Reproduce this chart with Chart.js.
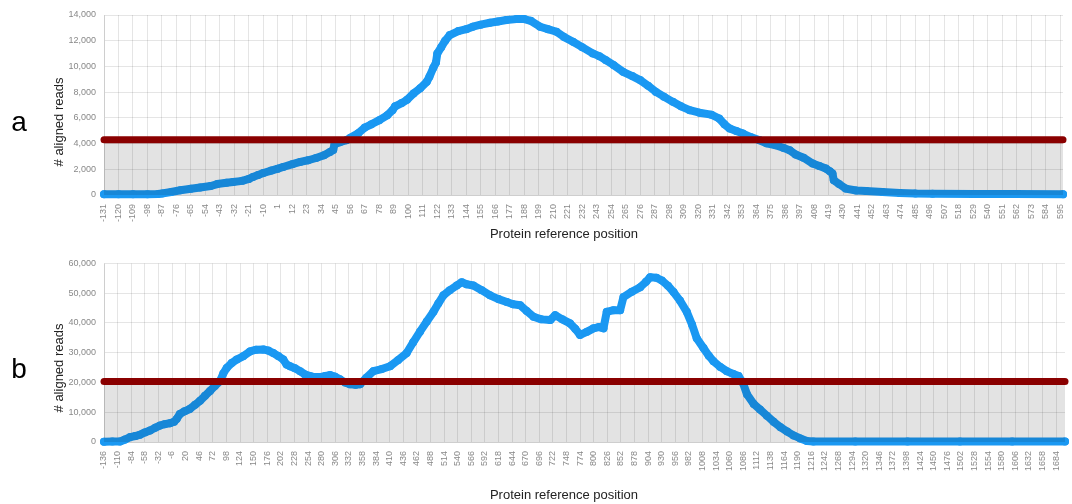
<!DOCTYPE html>
<html>
<head>
<meta charset="utf-8">
<script src="https://cdn.jsdelivr.net/npm/chart.js@4"></script>
<style>
  html, body { margin: 0; padding: 0; background: #fff; }
  canvas { display: block; }
</style>
</head>
<body>
<canvas id="chartA" width="1072" height="250"></canvas>
<canvas id="chartB" width="1072" height="254"></canvas>
<script>
// panel a: protein reference position vs aligned reads
const posA = [-131, -120, -109, -98, -90, -87, -80, -73, -65, -58, -50, -45, -38, -33, -26, -21, -18, -14, -10, -4,
  1, 5, 12, 18, 24, 30, 36, 40.5, 43, 44, 48, 53, 56, 62, 67, 72, 78, 84, 88, 90, 95, 99, 104, 109, 114, 116, 119,
  121, 122, 125, 128, 131.5, 138, 144, 149, 155, 162, 168, 174.5, 182, 188, 193, 200, 206, 212.5, 218, 225, 232,
  240, 245, 250, 256, 263, 270, 276, 282, 288, 294, 300.8, 307, 313.6, 321, 330, 336, 340, 344, 349, 354, 360,
  366.7, 372, 379, 385, 389.5, 394, 400, 407, 412, 417, 420, 422, 423, 427, 432, 440, 447.6, 460, 473, 485, 498,
  530, 560, 597];
const readsA = [50, 50, 50, 60, 80, 120, 230, 370, 480, 580, 700, 850, 950, 1010, 1100, 1250, 1400, 1550, 1710, 1900,
  2050, 2180, 2400, 2570, 2700, 2880, 3100, 3350, 3500, 3950, 4100, 4260, 4450, 4800, 5250, 5500, 5820, 6200, 6600,
  6900, 7150, 7400, 7900, 8300, 8800, 9190, 9900, 10300, 11000, 11500, 12000, 12440, 12750, 12900, 13090, 13250,
  13400, 13500, 13610, 13680, 13680, 13550, 13090, 12900, 12700, 12300, 11920, 11500, 11015, 10800, 10490, 10100,
  9580, 9250, 8935, 8500, 8020, 7650, 7245, 6900, 6600, 6400, 6250, 5950, 5500, 5170, 4980, 4780, 4500, 4260, 4020,
  3870, 3650, 3480, 3150, 2900, 2445, 2250, 2055, 1850, 1665, 1150, 850, 500, 350, 310, 230, 155, 110, 100, 80, 70, 50];
const cutA = 4300;
const ticksA = [-131, -120, -109, -98, -87, -76, -65, -54, -43, -32, -21, -10, 1, 12, 23, 34, 45, 56, 67, 78, 89,
  100, 111, 122, 133, 144, 155, 166, 177, 188, 199, 210, 221, 232, 243, 254, 265, 276, 287, 298, 309, 320, 331, 342,
  353, 364, 375, 386, 397, 408, 419, 430, 441, 452, 463, 474, 485, 496, 507, 518, 529, 540, 551, 562, 573, 584, 595];

// panel b
const posB = [-136, -120, -105.4, -96, -86, -76, -67, -58, -48, -38, -29, -20, -10, -2, 3, 9, 18, 28, 38, 47.5, 57,
  66.7, 76, 85.8, 92, 98.6, 108, 117.7, 130, 143, 155, 168.6, 178, 187.7, 197, 206.8, 213, 219.6, 229, 238.8, 248,
  258, 267, 277, 287, 296, 305, 315, 325, 334, 345, 353.5, 365, 378.8, 395, 410.8, 426, 442.6, 455, 468, 481, 493.7,
  503, 512.8, 525, 538.3, 547.9, 557, 570, 586, 602, 618, 634, 646, 659.5, 672, 685, 700, 717, 726.5, 740, 755, 765,
  774, 787, 799.7, 810, 818.8, 825, 838, 850.6, 857, 873, 889, 900, 908, 920, 930.4, 942, 952.7, 965, 978, 988, 997,
  1010, 1020, 1029, 1042, 1054.5, 1066, 1077, 1085, 1093, 1106, 1118, 1131, 1144, 1157, 1170, 1182, 1195, 1207.7,
  1220, 1300, 1400, 1500, 1600, 1701];
const readsB = [100, 150, 200, 800, 1650, 2000, 2450, 3200, 3880, 4800, 5540, 6000, 6300, 6800, 7760, 9400, 10300,
  11090, 12500, 13840, 15500, 17160, 18800, 20480, 23000, 24900, 26500, 27690, 28800, 30440, 31000, 31100, 30700,
  29880, 28900, 27690, 26000, 25460, 24800, 23800, 22700, 22140, 21800, 21800, 22200, 22470, 22000, 21050, 20000,
  19390, 19200, 19390, 21500, 23800, 24500, 25460, 27500, 29880, 33500, 37080, 40500, 43720, 46500, 49260, 51000,
  52580, 53690, 53000, 52580, 51000, 49260, 48000, 47040, 46300, 45930, 44000, 42060, 41200, 40950, 42610, 41200,
  39840, 38000, 35970, 37000, 38180, 38600, 38180, 43720, 44300, 44270, 48700, 50500, 52020, 53800, 55340, 55200,
  54250, 52500, 50370, 47500, 43720, 39500, 34860, 31540, 29000, 27120, 25200, 23800, 22900, 22140, 20000, 16070,
  12750, 10900, 8860, 6800, 4980, 3500, 2220, 1200, 330, 200, 150, 150, 150, 150, 150];
const cutB = 20300;
const ticksB = [-136, -110, -84, -58, -32, -6, 20, 46, 72, 98, 124, 150, 176, 202, 228, 254, 280, 306, 332, 358, 384,
  410, 436, 462, 488, 514, 540, 566, 592, 618, 644, 670, 696, 722, 748, 774, 800, 826, 852, 878, 904, 930, 956, 982,
  1008, 1034, 1060, 1086, 1112, 1138, 1164, 1190, 1216, 1242, 1268, 1294, 1320, 1346, 1372, 1398, 1424, 1450, 1476,
  1502, 1528, 1554, 1580, 1606, 1632, 1658, 1684];

const FONT = '"Liberation Sans", Arial, sans-serif';
Chart.defaults.font.family = FONT;
const gridColor = 'rgba(0,0,0,0.1)';

// panel letter + axis titles, drawn where the original has them
const panelText = {
  id: 'panelText',
  afterDraw(chart, args, o) {
    const ctx = chart.ctx;
    ctx.save();
    ctx.fillStyle = '#000';
    ctx.textAlign = 'center';
    ctx.textBaseline = 'alphabetic';
    ctx.font = '28px ' + FONT;
    ctx.fillText(o.letter, 19, o.letterY);
    ctx.fillStyle = '#222';
    ctx.font = '13px ' + FONT;
    ctx.textBaseline = 'middle';
    ctx.fillText('Protein reference position', 564, o.xTitleY);
    ctx.translate(59, o.midY);
    ctx.rotate(-Math.PI / 2);
    ctx.fillText('# aligned reads', 0, 0);
    ctx.restore();
  }
};

function makeChart(id, c) {
  const pts = c.pos.map((p, i) => ({ x: p, y: c.reads[i] }));
  return new Chart(document.getElementById(id), {
    type: 'line',
    data: {
      datasets: [
        {
          label: 'cutoff',
          data: [{ x: c.xMin, y: c.cut }, { x: c.xMax, y: c.cut }],
          borderColor: '#8a0000',
          borderWidth: 7,
          borderCapStyle: 'round',
          pointRadius: 0,
          fill: 'origin',
          backgroundColor: 'rgba(0,0,0,0.11)',
          clip: 6
        },
        {
          label: 'reads',
          data: pts,
          borderColor: '#1a98f2',
          borderWidth: 8,
          borderJoinStyle: 'round',
          borderCapStyle: 'round',
          pointRadius: 4,
          pointBorderWidth: 0,
          pointBackgroundColor: '#1a98f2',
          fill: false,
          clip: 6
        }
      ]
    },
    options: {
      responsive: false,
      animation: false,
      layout: { padding: c.padding },
      plugins: {
        legend: { display: false },
        tooltip: { enabled: false },
        panelText: c.text
      },
      scales: {
        x: {
          type: 'linear',
          min: c.xMin,
          max: c.xMax,
          afterBuildTicks: s => { s.ticks = c.ticks.map(v => ({ value: v })); },
          afterFit: s => { s.height = c.xHeight; s.paddingLeft = 0; s.paddingRight = 0; },
          ticks: {
            autoSkip: false,
            minRotation: 90,
            maxRotation: 90,
            padding: 9,
            color: '#888',
            font: { size: 9 },
            callback: v => String(v)
          },
          grid: { color: gridColor, drawTicks: false },
          border: { color: gridColor }
        },
        y: {
          min: 0,
          max: c.yMax,
          afterFit: s => { s.width = 104; },
          ticks: {
            stepSize: c.yStep,
            padding: 8,
            color: '#888',
            font: { size: 9 },
            callback: v => v.toLocaleString('en-US')
          },
          grid: { color: gridColor, drawTicks: false },
          border: { color: gridColor }
        }
      }
    },
    plugins: [panelText]
  });
}

makeChart('chartA', {
  pos: posA, reads: readsA, cut: cutA, ticks: ticksA,
  xMin: -131, xMax: 597, yMax: 14000, yStep: 2000,
  padding: { top: 15, right: 9, bottom: 0, left: 0 }, xHeight: 55,
  text: { letter: 'a', letterY: 131, midY: 122, xTitleY: 234 }
});

makeChart('chartB', {
  pos: posB, reads: readsB, cut: cutB, ticks: ticksB,
  xMin: -136, xMax: 1701, yMax: 60000, yStep: 10000,
  padding: { top: 11, right: 7, bottom: 0, left: 0 }, xHeight: 62,
  text: { letter: 'b', letterY: 128, midY: 118, xTitleY: 245 }
});
</script>
</body>
</html>
